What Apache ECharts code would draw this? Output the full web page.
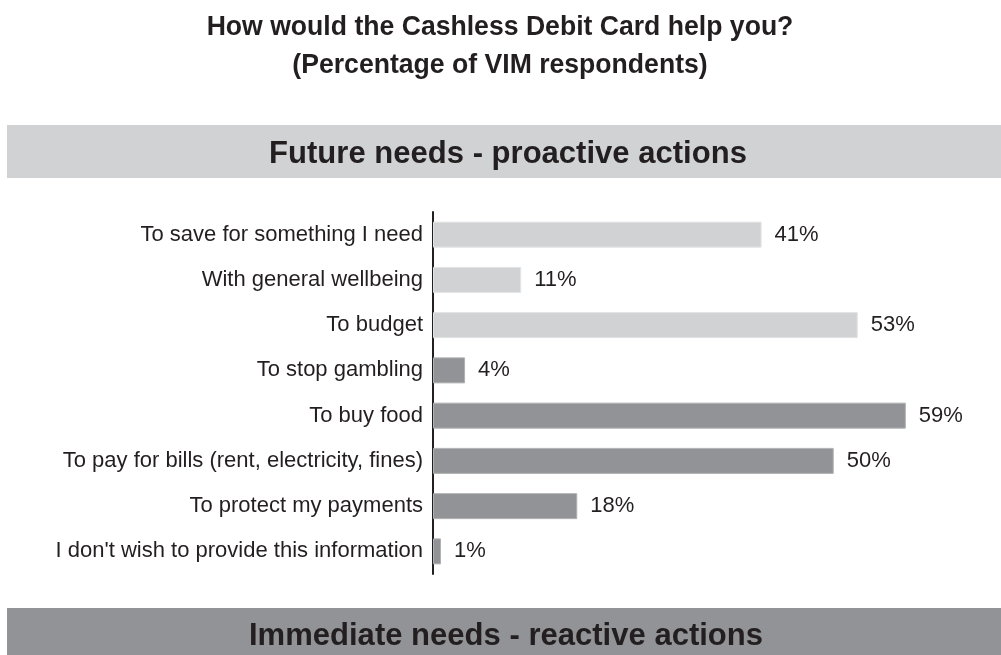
<!DOCTYPE html>
<html>
<head>
<meta charset="utf-8">
<script src="https://cdn.jsdelivr.net/npm/echarts@6/dist/echarts.min.js"></script>
<style>
  html, body { margin: 0; padding: 0; background: #ffffff; }
  #chart { width: 1001px; height: 655px; }
</style>
</head>
<body>
<div id="chart"></div>
<script>
// Survey answers, top to bottom
const categories = [
  "To save for something I need",
  "With general wellbeing",
  "To budget",
  "To stop gambling",
  "To buy food",
  "To pay for bills (rent, electricity, fines)",
  "To protect my payments",
  "I don't wish to provide this information"
];
// Percentage of respondents for each answer
const values = [41, 11, 53, 4, 59, 50, 18, 1];
// Group of each answer: "future" (proactive) or "immediate" (reactive)
const groups = ["future", "future", "future", "immediate", "immediate", "immediate", "immediate", "immediate"];

const titleLines = ["How would the Cashless Debit Card help you?", "(Percentage of VIM respondents)"];
const topBanner = "Future needs - proactive actions";
const bottomBanner = "Immediate needs - reactive actions";

const LIGHT = "#d1d2d4";
const DARK = "#929396";
const INK = "#231f20";
const SANS = "'Liberation Sans', Arial, Helvetica, sans-serif";

// Bold heading text, squeezed horizontally for a condensed look
function heading(text, x, y, size, squeeze) {
  return {
    type: "text", x: x, y: y, scaleX: squeeze, scaleY: 1,
    style: {
      text: text, align: "center", verticalAlign: "middle",
      font: "bold " + size + "px " + SANS, fill: INK
    }
  };
}

const chart = echarts.init(document.getElementById("chart"), null, { renderer: "canvas" });

chart.setOption({
  animation: false,
  backgroundColor: "#ffffff",
  graphic: [
    heading(titleLines[0], 500, 27, 28, 0.95),
    heading(titleLines[1], 500, 65, 28, 0.95),
    { type: "rect", shape: { x: 7, y: 125, width: 994, height: 53 }, style: { fill: LIGHT } },
    heading(topBanner, 508, 154, 32, 0.97),
    { type: "rect", shape: { x: 7, y: 608, width: 994, height: 47 }, style: { fill: DARK } },
    heading(bottomBanner, 506, 636, 32, 0.97)
  ],
  grid: { left: 433, top: 212, height: 362, right: 7 },
  xAxis: {
    type: "value",
    min: 0,
    max: 70,
    show: false
  },
  yAxis: {
    type: "category",
    inverse: true,
    data: categories,
    axisLine: { show: true, lineStyle: { color: INK, width: 2 } },
    axisTick: { show: false },
    axisLabel: {
      margin: 10,
      color: INK,
      fontFamily: SANS,
      fontSize: 22
    }
  },
  series: [
    {
      type: "bar",
      barWidth: 26,
      data: values.map((v, i) => ({
        value: v,
        itemStyle: {
          color: groups[i] === "future" ? LIGHT : DARK,
          borderColor: groups[i] === "future" ? "#e2e3e4" : "#b0b1b3",
          borderWidth: 1
        }
      })),
      label: {
        show: true,
        position: "right",
        distance: 13,
        formatter: p => p.value + "%",
        color: INK,
        fontFamily: SANS,
        fontSize: 22
      }
    }
  ]
});
</script>
</body>
</html>
